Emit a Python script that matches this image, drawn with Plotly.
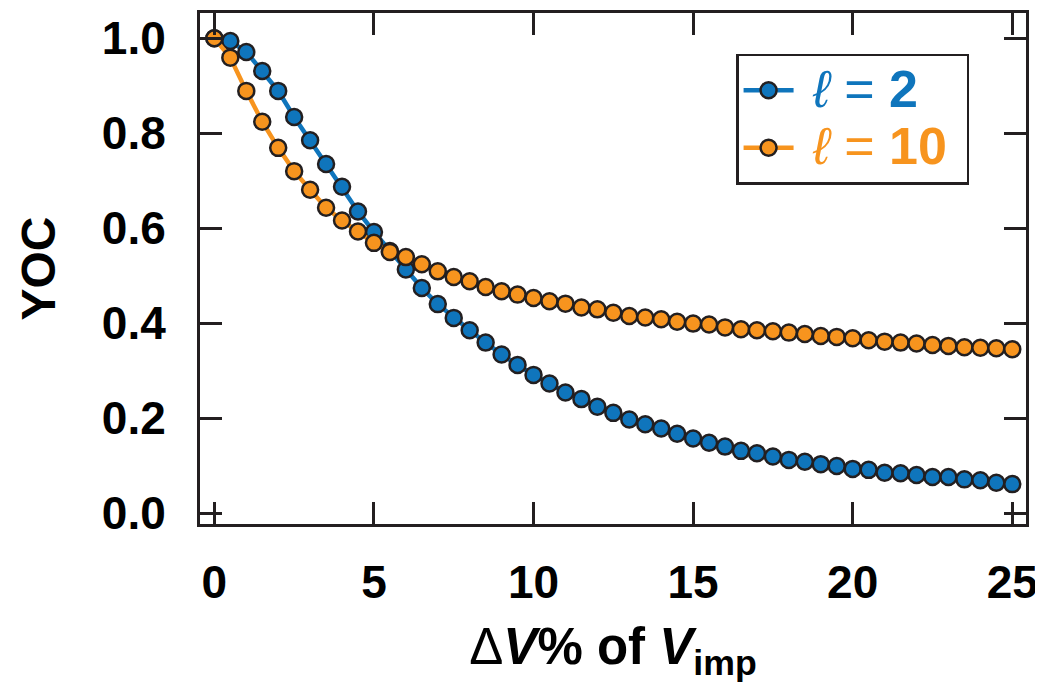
import plotly.graph_objects as go

x_vals = [i * 0.5 for i in range(51)]

yoc_l2 = [1.000, 0.994, 0.971, 0.931, 0.889, 0.834, 0.785, 0.735, 0.687, 0.635,
          0.592, 0.552, 0.513, 0.474, 0.440, 0.411, 0.385, 0.359, 0.334, 0.312,
          0.291, 0.273, 0.254, 0.240, 0.224, 0.211, 0.197, 0.187, 0.178, 0.167,
          0.157, 0.148, 0.140, 0.131, 0.126, 0.119, 0.112, 0.108, 0.103, 0.099,
          0.093, 0.091, 0.085, 0.084, 0.080, 0.076, 0.076, 0.071, 0.069, 0.064,
          0.061]

yoc_l10 = [1.000, 0.959, 0.889, 0.824, 0.769, 0.720, 0.681, 0.643, 0.616, 0.593,
           0.569, 0.550, 0.539, 0.524, 0.509, 0.497, 0.488, 0.476, 0.467, 0.460,
           0.453, 0.446, 0.441, 0.433, 0.429, 0.422, 0.415, 0.412, 0.408, 0.403,
           0.399, 0.397, 0.391, 0.387, 0.385, 0.383, 0.380, 0.377, 0.373, 0.371,
           0.368, 0.364, 0.361, 0.359, 0.357, 0.354, 0.352, 0.349, 0.348, 0.347,
           0.345]

x_ticks = [0, 5, 10, 15, 20, 25]
y_ticks = [0.0, 0.2, 0.4, 0.6, 0.8, 1.0]
y_tick_text = ["0.0", "0.2", "0.4", "0.6", "0.8", "1.0"]

BLUE = "#0F75BC"
ORANGE = "#F7941E"
DARK = "#231F20"
FONT = "Liberation Sans, Arial, sans-serif"


def legend_label(color, value):
    return (f"<span style='color:{color};font-size:52px'> <i>ℓ</i> = "
            f"<b>{value}</b> </span>")


fig = go.Figure()
fig.add_trace(go.Scatter(
    x=x_vals, y=yoc_l2, mode="lines+markers",
    name=legend_label(BLUE, "2"),
    line=dict(color=BLUE, width=4.5),
    marker=dict(size=16, color=BLUE, line=dict(color=DARK, width=2.5)),
))
fig.add_trace(go.Scatter(
    x=x_vals, y=yoc_l10, mode="lines+markers",
    name=legend_label(ORANGE, "10"),
    line=dict(color=ORANGE, width=4.5),
    marker=dict(size=16, color=ORANGE, line=dict(color=DARK, width=2.5)),
))

axis_common = dict(
    showline=True, linecolor=DARK, linewidth=3, mirror="ticks",
    ticks="inside", ticklen=22, tickwidth=2.5, tickcolor=DARK,
    showgrid=False, zeroline=False, automargin=False,
    tickfont=dict(family=FONT, size=46, color="black", weight="bold"),
)

fig.update_xaxes(
    range=[-0.45, 25.43], tickvals=x_ticks,
    ticktext=[str(v) for v in x_ticks],
    ticklabelstandoff=16,
    title=dict(text="Δ<b><i>V</i>% of <i>V</i><sub>imp</sub></b>",
               font=dict(family=FONT, size=51, color="black"), standoff=22),
    **axis_common,
)
fig.update_yaxes(
    range=[-0.023, 1.053], tickvals=y_ticks, ticktext=y_tick_text,
    ticklabelstandoff=22,
    title=dict(text="<b>YOC</b>", font=dict(family=FONT, size=48, color="black"),
               standoff=32),
    **axis_common,
)

fig.update_layout(
    width=1043, height=689,
    margin=dict(l=192, r=25, t=5, b=173),
    paper_bgcolor="white", plot_bgcolor="white",
    showlegend=True,
    legend=dict(
        x=0.649, y=0.92, xanchor="left", yanchor="top",
        bgcolor="white", bordercolor=DARK, borderwidth=2.5,
        font=dict(family=FONT, size=42, color="black"),
        itemwidth=50, tracegroupgap=0,
    ),
)

fig.write_html("out.html")
